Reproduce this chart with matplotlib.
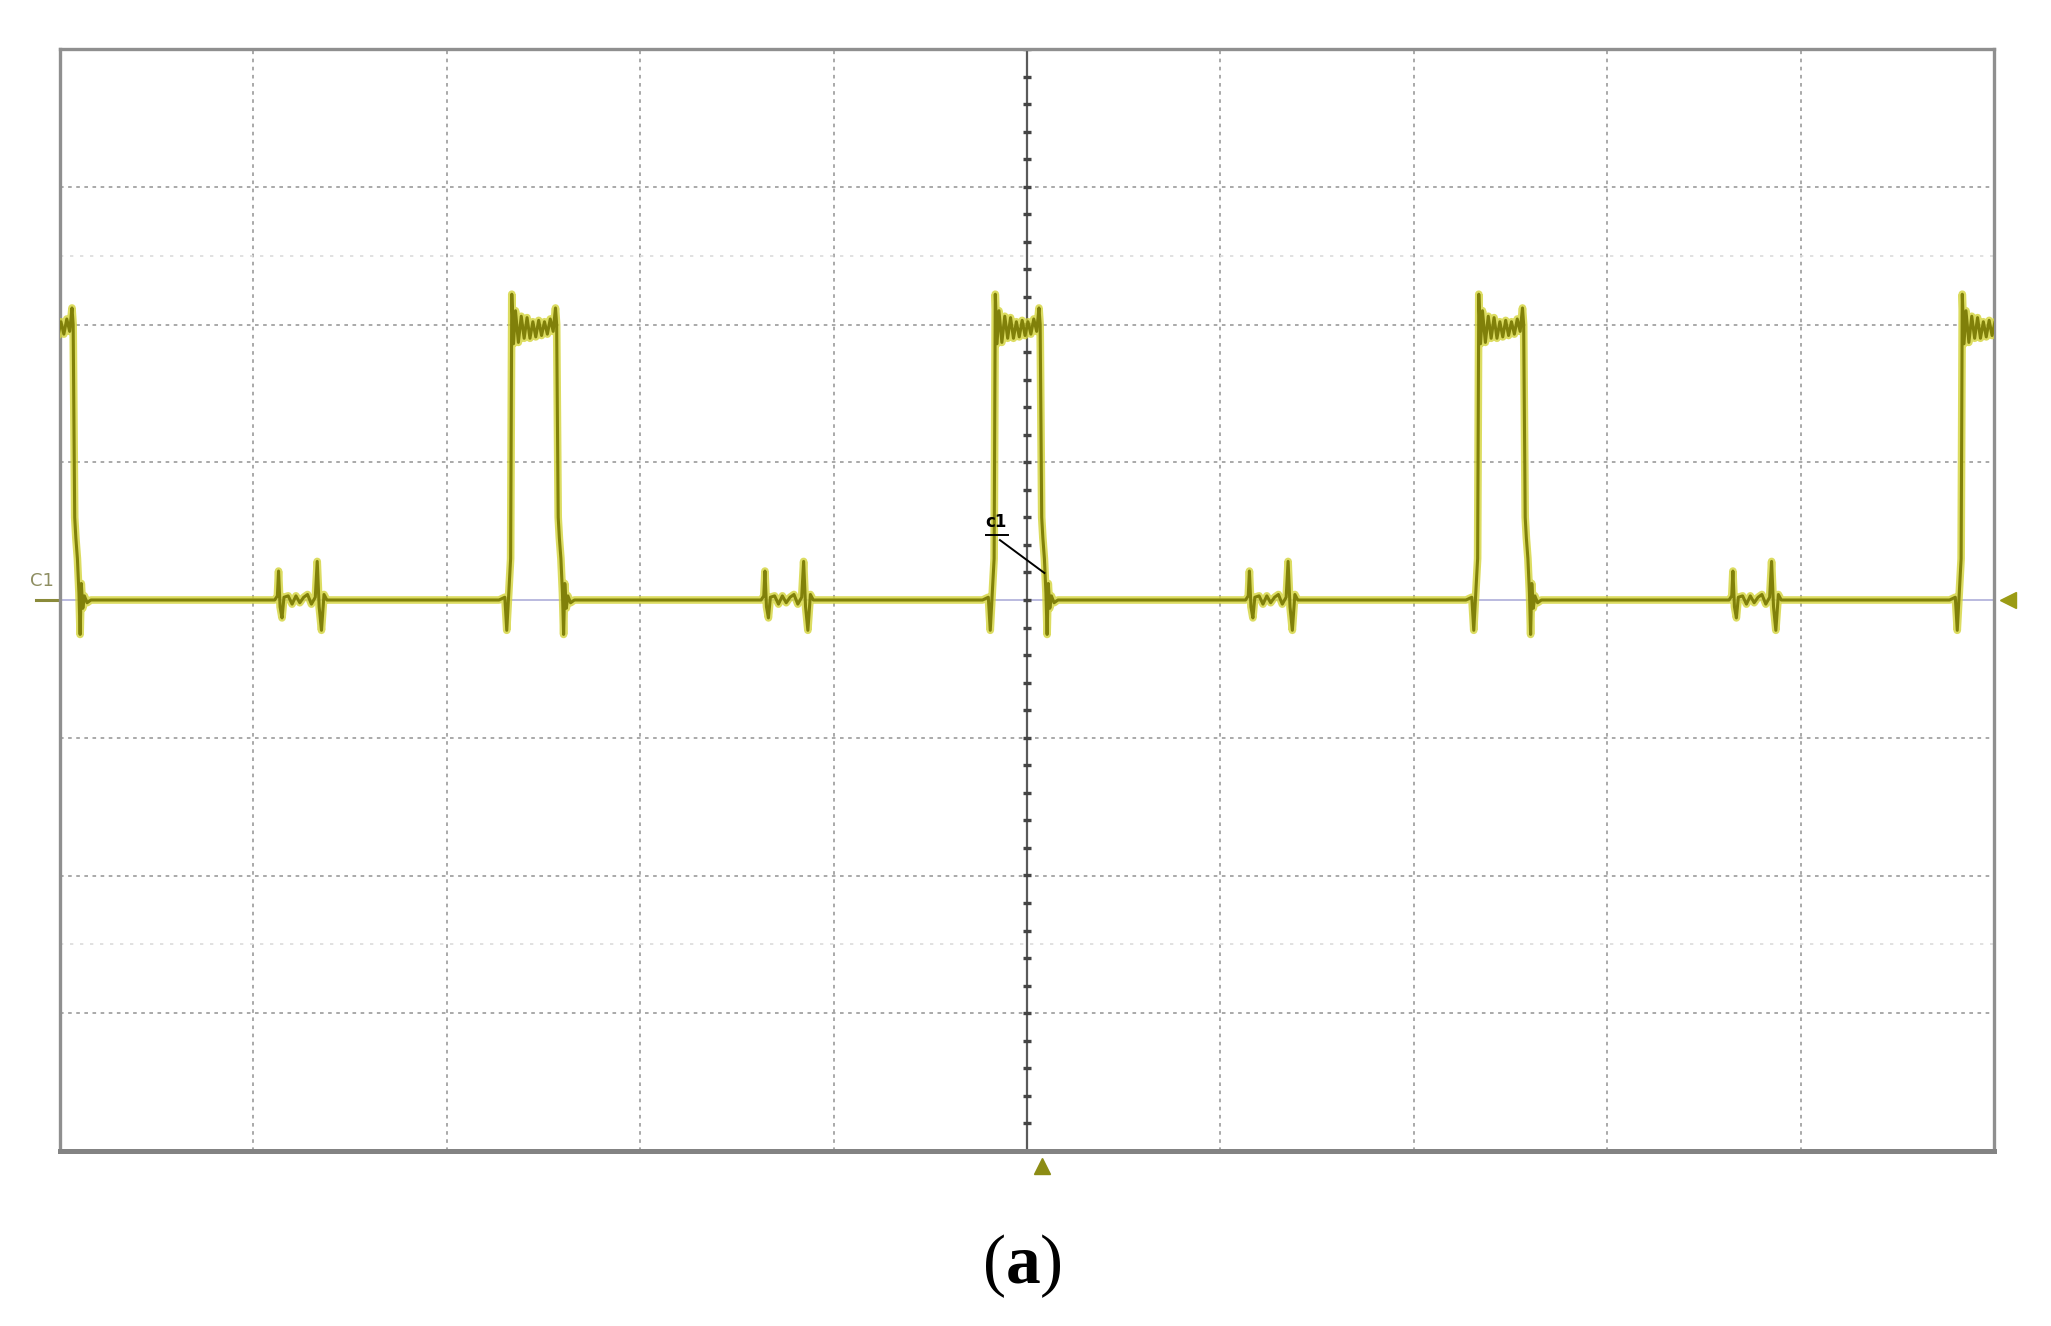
"""Scope capture (a): C1 gate pulses, 10 x 8 division screen."""
import matplotlib
matplotlib.use("Agg")
import matplotlib.pyplot as plt
import matplotlib.transforms as mtransforms
import numpy as np

# screen size in divisions
X_DIV = 10
Y_DIV = 8

# rising edges of the pulses (div), first one starts off-screen
RISE_T = [-0.17, 2.33, 4.83, 7.33, 9.83]

# one pulse: time after rising edge (div), level (div)
PULSE_DT = [-0.06, -0.03, -0.02, -0.008, 0.0, 0.006, 0.015, 0.025, 0.04, 0.055,
            0.07, 0.085, 0.10, 0.115, 0.13, 0.145, 0.16, 0.175, 0.19, 0.205,
            0.22, 0.232, 0.238, 0.243, 0.246, 0.252, 0.26, 0.268, 0.274, 0.28,
            0.288, 0.296, 0.31, 0.33]
PULSE_V = [0.0, 0.02, -0.22, 0.1, 0.3, 2.22, 1.86, 2.1, 1.87, 2.06,
           1.9, 2.05, 1.9, 2.02, 1.91, 2.03, 1.92, 2.02, 1.93, 2.04,
           1.95, 2.12, 2.0, 1.1, 0.6, 0.45, 0.3, 0.05, -0.25, 0.12,
           -0.06, 0.03, -0.02, 0.0]

# the two small glitches between pulses
GLITCH_T = [1.13, 3.645, 6.15, 8.65]
GLITCH_DT = [-0.02, -0.006, 0.0, 0.008, 0.018, 0.028, 0.05, 0.07, 0.09, 0.11,
             0.13, 0.15, 0.17, 0.19, 0.2, 0.21, 0.222, 0.235, 0.25]
GLITCH_V = [0.0, 0.03, 0.21, -0.05, -0.13, 0.02, 0.03, -0.03, 0.03, -0.02,
            0.02, 0.04, -0.03, 0.02, 0.28, -0.05, -0.22, 0.04, 0.0]

# faint reference rows and trigger position
REF_LEVELS = [2.5, -2.5]
TRIG_T = 5.08

TRACE = "#80800a"
HALO = "#d4d43a"
GRID = "#a2a2a2"

t, v = [], []
for r in RISE_T:
    t += [r + d for d in PULSE_DT]
    v += PULSE_V
for g in GLITCH_T:
    t += [g + d for d in GLITCH_DT]
    v += GLITCH_V
order = np.argsort(t)
t = np.array(t)[order]
v = np.array(v)[order]

plt.rcParams["mathtext.fontset"] = "custom"
plt.rcParams["mathtext.rm"] = "Liberation Serif"
plt.rcParams["mathtext.bf"] = "Liberation Serif:bold"

fig = plt.figure(figsize=(20.51, 13.26), dpi=100)
ax = fig.add_axes([60 / 2051, 1 - 1151 / 1326, 1934 / 2051, 1102 / 1326])
ax.set_xlim(0, X_DIV)
ax.set_ylim(-Y_DIV / 2, Y_DIV / 2)
ax.set_xticks([])
ax.set_yticks([])
for sp in ax.spines.values():
    sp.set_color("#8f8f8f")
    sp.set_linewidth(2.4)
ax.spines["bottom"].set_linewidth(3.6)
ax.spines["bottom"].set_color("#838383")

# graticule
for x in range(1, X_DIV):
    if x != X_DIV // 2:
        ax.axvline(x, color=GRID, lw=1.3, ls=(0, (2, 2.5)), zorder=1)
for y in range(-Y_DIV // 2 + 1, Y_DIV // 2):
    if y != 0:
        ax.axhline(y, color=GRID, lw=1.3, ls=(0, (2, 2.5)), zorder=1)
for y in REF_LEVELS:
    ax.axhline(y, color="#dcdcdc", lw=1.2, ls=(0, (2, 4)), zorder=1)
ax.axhline(0, color="#b4b4dc", lw=1.3, zorder=1)
ax.axvline(X_DIV / 2, color="#5a5a5a", lw=1.6, zorder=2)
minor = np.arange(-Y_DIV / 2, Y_DIV / 2 + 0.01, 0.2)
ax.plot([X_DIV / 2] * len(minor), minor, ls="none", marker="_", ms=6,
        mew=2.4, color="#444444", zorder=2)

# trace
ax.plot(t, v, color=HALO, lw=5.5, solid_joinstyle="round", zorder=3, alpha=0.8)
ax.plot(t, v, color=TRACE, lw=2.2, solid_joinstyle="round", zorder=4)

# channel label and markers
lab = mtransforms.blended_transform_factory(ax.transAxes, ax.transData)
ax.text(-0.0095, 0.07, "C1", transform=lab, ha="center", va="bottom",
        fontsize=13, color="#8e8e62", clip_on=False)
ax.plot([-0.0125, -0.001], [0, 0], transform=lab, color="#8a8a3a", lw=2.2,
        clip_on=False)
ax.plot([1.007], [0], transform=lab, marker="<", ms=11, color="#9b9b14",
        clip_on=False, ls="none")
trig = mtransforms.blended_transform_factory(ax.transData, ax.transAxes)
ax.plot([TRIG_T], [-0.014], transform=trig, marker="^", ms=12,
        color="#8c8c14", clip_on=False, ls="none")

# cursor tag on the falling edge
ax.text(4.84, 0.5, "c1", fontsize=12, fontweight="bold", color="black",
        ha="center", va="bottom", zorder=5)
ax.plot([4.79, 4.9], [0.47, 0.47], color="black", lw=1.4, zorder=5)
ax.plot([4.86, 5.09], [0.435, 0.196], color="black", lw=1.4, zorder=5)

fig.text(0.4985, 1 - 1266 / 1326, r"$\mathrm{(}\mathbf{a}\mathrm{)}$",
         ha="center", va="center", fontsize=50)

fig.savefig("out.png", dpi=100)
